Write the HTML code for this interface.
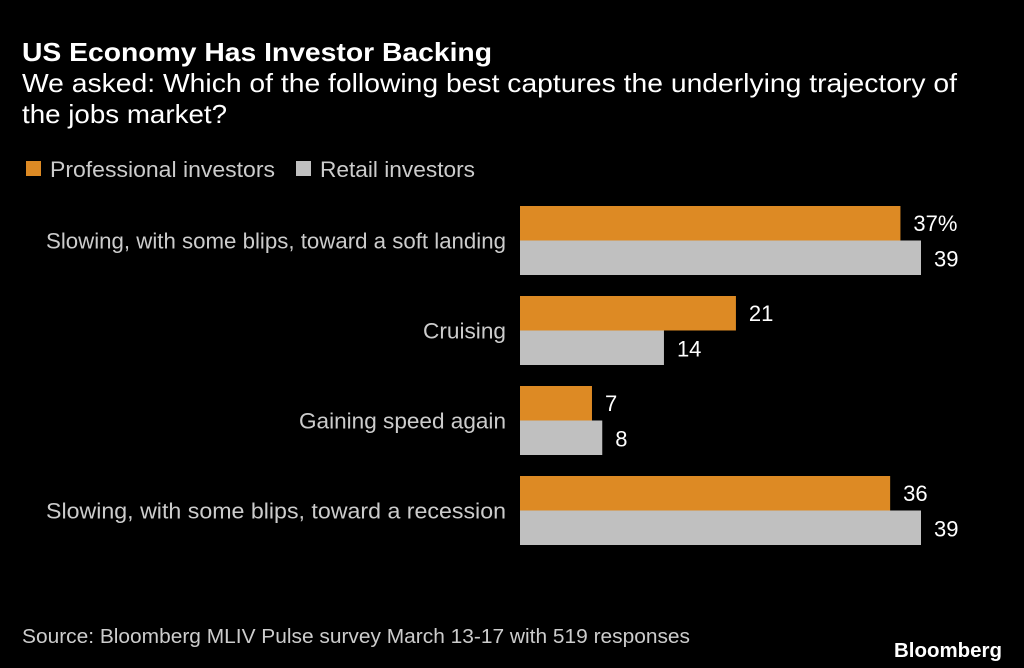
<!DOCTYPE html>
<html><head><meta charset="utf-8"><style>
html,body{margin:0;padding:0;background:#000;}
svg{display:block;font-family:"Liberation Sans",sans-serif;}
</style></head><body>
<svg id="chart" width="1024" height="668" viewBox="0 0 1024 668">
<rect width="1024" height="668" fill="#000"/>
<text x="22" y="61" fill="#fff" font-size="26" font-weight="bold" textLength="470" lengthAdjust="spacingAndGlyphs">US Economy Has Investor Backing</text>
<text x="22" y="92" fill="#fff" font-size="26" textLength="935" lengthAdjust="spacingAndGlyphs">We asked: Which of the following best captures the underlying trajectory of</text>
<text x="22" y="123" fill="#fff" font-size="26" textLength="205" lengthAdjust="spacingAndGlyphs">the jobs market?</text>
<g>
<rect x="26" y="161" width="15" height="15" fill="#dd8a24"/>
<text x="50" y="177" fill="#ccc" font-size="22" textLength="225" lengthAdjust="spacingAndGlyphs">Professional investors</text>
<rect x="296" y="161" width="15" height="15" fill="#c0c0c0"/>
<text x="320" y="177" fill="#ccc" font-size="22" textLength="155" lengthAdjust="spacingAndGlyphs">Retail investors</text>
</g>
<g id="bars"></g>
<text x="22" y="643" fill="#ccc" font-size="20" textLength="668" lengthAdjust="spacingAndGlyphs">Source: Bloomberg MLIV Pulse survey March 13-17 with 519 responses</text>
<text x="1002" y="657" fill="#fff" font-size="20" font-weight="bold" text-anchor="end" textLength="108" lengthAdjust="spacingAndGlyphs">Bloomberg</text>
</svg>
<script>
const categories = ["Slowing, with some blips, toward a soft landing","Cruising","Gaining speed again","Slowing, with some blips, toward a recession"];
const professional = [37,21,7,36];
const retail = [39,14,8,39];
const labelWidths = [460,83,207,460];

const NS="http://www.w3.org/2000/svg";
const g=document.getElementById('bars');
const x0=520, scale=401/39;
function xs(v){return v*scale;}
const top0=206, step=90, bh=34.5;
function mk(tag,attrs){const e=document.createElementNS(NS,tag);for(const k in attrs)e.setAttribute(k,attrs[k]);g.appendChild(e);return e;}
categories.forEach((c,i)=>{
  const y=top0+i*step;
  const lab=mk('text',{x:506,y:y+bh+8,fill:'#ccc','font-size':22,'text-anchor':'end',textLength:labelWidths[i],lengthAdjust:'spacingAndGlyphs'});
  lab.textContent=c;
  
  
  const b1=mk('rect',{x:x0,y:y,width:xs(professional[i]),height:bh,fill:'#dd8a24'});
  
  
  const b2=mk('rect',{x:x0,y:y+bh,width:xs(retail[i]),height:bh,fill:'#c0c0c0'});
  
  
  const v1=mk('text',{x:x0+xs(professional[i])+13,y:y+25,fill:'#fff','font-size':22});
  v1.textContent=professional[i]+(i===0?'%':'');
  
  
  const v2=mk('text',{x:x0+xs(retail[i])+13,y:y+bh+26,fill:'#fff','font-size':22});
  v2.textContent=retail[i];
  
  
});
</script>
</body></html>
